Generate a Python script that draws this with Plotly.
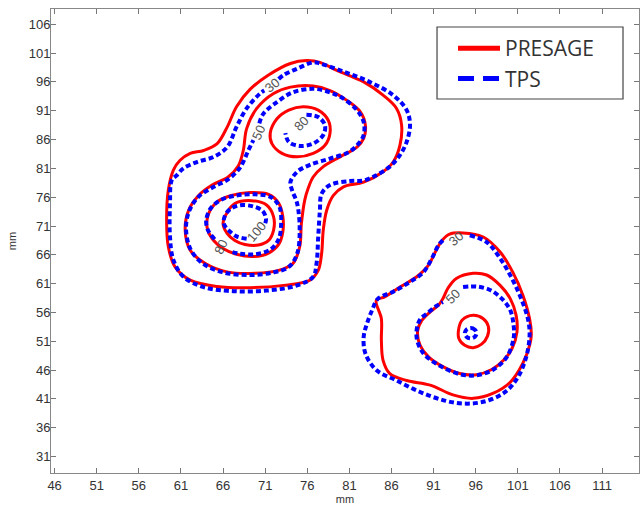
import plotly.graph_objects as go

# ---------------- axes ----------------
X_RANGE = [45.57, 115.39]
Y_RANGE = [28.15, 108.65]
X_TICKS = [46, 51, 56, 61, 66, 71, 76, 81, 86, 91, 96, 101, 106, 111]
Y_TICKS = [31, 36, 41, 46, 51, 56, 61, 66, 71, 76, 81, 86, 91, 96, 101, 106]

# ---------------- PRESAGE (measured) isodose lines, mm ----------------
presage_30_upper_x = [75.9, 77.5, 79.5, 82.7, 85.0, 86.6, 87.2, 87.0, 86.2, 85.0, 82.7, 80.3, 79.1, 78.3, 77.9, 77.7, 77.3, 76.3, 73.2, 69.2, 65.3, 62.1, 60.3, 59.5, 59.3, 59.5, 60.1, 60.9, 62.1, 63.7, 65.3, 66.5, 67.6, 69.2, 71.4, 74.0, 75.9]
presage_30_upper_y = [99.7, 99.4, 98.0, 96.0, 93.7, 91.4, 88.5, 85.0, 82.1, 80.4, 78.6, 77.8, 76.3, 73.7, 70.3, 66.2, 63.3, 61.6, 60.7, 60.3, 60.5, 61.6, 63.9, 67.4, 72.0, 77.2, 80.7, 82.4, 83.6, 84.1, 85.3, 88.2, 91.7, 94.7, 97.2, 99.2, 99.7]
presage_50_upper_x = [74.0, 76.7, 78.7, 80.7, 82.3, 82.9, 82.7, 81.9, 79.9, 77.9, 76.7, 76.1, 75.7, 75.3, 75.1, 74.3, 72.6, 69.8, 66.6, 63.9, 62.1, 61.5, 61.9, 63.1, 64.7, 66.6, 67.8, 68.4, 68.8, 70.0, 72.0, 74.0]
presage_50_upper_y = [95.1, 95.3, 94.5, 92.8, 90.8, 88.5, 86.2, 84.7, 83.0, 81.3, 79.5, 77.5, 75.5, 71.4, 67.4, 64.5, 63.3, 62.8, 63.0, 64.5, 66.8, 70.3, 73.7, 76.3, 78.1, 79.5, 81.4, 84.1, 87.9, 91.4, 94.0, 95.1]
presage_80_top_x = [72.4, 73.8, 75.5, 77.3, 78.5, 78.7, 78.1, 76.7, 74.8, 73.0, 71.8, 71.6, 72.4]
presage_80_top_y = [89.6, 91.1, 91.7, 91.1, 89.3, 87.1, 85.0, 83.6, 83.0, 83.6, 85.3, 87.1, 89.6]
presage_80_low_x = [64.3, 65.3, 67.0, 69.2, 71.4, 72.6, 73.1, 73.1, 72.6, 71.4, 69.6, 67.6, 66.0, 64.7, 64.1, 64.3]
presage_80_low_y = [73.2, 75.2, 76.3, 76.8, 76.5, 75.0, 72.6, 70.0, 67.8, 66.3, 65.7, 66.1, 67.1, 68.8, 70.8, 73.2]
presage_100_x = [66.5, 67.4, 69.4, 71.2, 72.0, 72.0, 71.4, 70.2, 68.6, 67.4, 66.5, 66.0, 66.5]
presage_100_y = [73.4, 74.9, 75.4, 74.6, 72.6, 70.3, 68.5, 67.7, 67.8, 68.5, 69.7, 71.4, 73.4]
presage_30_lower_x = [94.5, 96.9, 98.9, 100.4, 101.6, 102.4, 102.6, 102.4, 101.6, 100.1, 98.1, 95.7, 93.3, 90.6, 87.8, 85.8, 85.0, 84.8, 84.8, 84.2, 85.2, 87.0, 89.0, 90.4, 91.2, 92.0, 92.9, 94.5]
presage_30_lower_y = [69.8, 69.1, 66.5, 63.0, 59.0, 54.9, 52.1, 50.3, 47.2, 43.9, 42.0, 41.1, 41.7, 43.4, 44.2, 45.4, 47.7, 51.2, 54.9, 58.1, 58.7, 60.4, 62.2, 64.2, 66.5, 68.5, 69.6, 69.8]
presage_50_lower_x = [93.7, 95.7, 97.3, 98.9, 100.1, 100.8, 100.9, 100.3, 99.3, 97.9, 96.1, 94.1, 92.1, 90.4, 89.4, 89.1, 89.6, 90.6, 91.6, 92.1, 92.7, 93.7]
presage_50_lower_y = [61.9, 62.8, 62.5, 60.7, 58.4, 55.5, 52.6, 49.7, 47.7, 46.1, 45.2, 45.4, 46.6, 48.3, 50.3, 52.8, 54.6, 56.1, 57.3, 58.4, 60.2, 61.9]
presage_80_lower_x = [95.7, 96.9, 97.5, 97.4, 96.7, 95.7, 94.7, 94.0, 94.0, 94.4, 95.7]
presage_80_lower_y = [55.5, 54.9, 53.6, 51.9, 50.5, 49.9, 50.3, 51.5, 53.3, 54.7, 55.5]

# ---------------- TPS (planned) isodose lines, mm (open where labelled) ----------------
tps_30_upper_x = [72.6, 73.2, 74.8, 76.7, 77.5, 80.3, 83.4, 86.2, 87.8, 88.2, 87.8, 87.0, 85.8, 84.2, 82.7, 81.1, 78.7, 77.7, 77.5, 77.3, 77.1, 76.7, 74.8, 71.2, 67.2, 63.7, 61.3, 60.1, 59.7, 59.7, 59.9, 60.5, 61.3, 62.9, 64.9, 66.5, 67.6, 68.8, 70.4, 70.9]
tps_30_upper_y = [96.5, 97.2, 98.3, 99.4, 99.2, 97.8, 96.0, 93.7, 91.1, 88.5, 85.6, 83.3, 81.3, 79.8, 78.9, 78.8, 78.1, 76.6, 73.7, 69.1, 64.5, 62.2, 60.7, 59.8, 59.7, 60.4, 62.2, 65.1, 69.1, 74.9, 78.9, 79.8, 81.0, 82.1, 83.0, 84.7, 88.2, 91.4, 94.0, 94.5]
tps_50_upper_x = [70.3, 70.8, 72.4, 74.3, 76.7, 78.7, 80.3, 81.9, 82.7, 82.7, 82.1, 80.9, 78.7, 76.3, 74.8, 74.0, 74.2, 74.8, 75.1, 74.8, 73.8, 71.8, 69.0, 65.9, 63.5, 62.1, 61.6, 62.0, 63.1, 64.9, 66.6, 68.0, 69.0, 69.6]
tps_50_upper_y = [88.8, 90.5, 92.5, 94.2, 94.8, 94.2, 93.1, 91.1, 89.0, 86.8, 85.3, 83.8, 82.7, 81.6, 80.4, 78.6, 77.2, 74.9, 70.3, 66.2, 63.9, 62.9, 62.5, 63.0, 64.6, 67.1, 70.7, 73.7, 76.1, 77.8, 79.1, 81.1, 84.1, 85.9]
tps_80_top_x = [75.9, 77.3, 78.1, 77.9, 76.7, 75.1, 73.8, 73.4]
tps_80_top_y = [90.3, 89.9, 88.5, 86.8, 85.3, 84.9, 85.6, 87.1]
tps_80_low_x = [65.0, 64.2, 64.0, 64.5, 65.7, 67.6, 69.8, 71.7, 72.7, 72.9, 72.6, 71.6, 69.8, 68.0, 66.8]
tps_80_low_y = [68.7, 70.3, 72.0, 74.0, 75.5, 76.3, 76.5, 76.0, 74.3, 71.4, 68.7, 66.9, 66.1, 66.2, 66.6]
tps_100_x = [68.8, 67.6, 66.7, 66.1, 66.2, 66.8, 68.0, 69.6, 70.7, 71.1, 71.0]
tps_100_y = [68.8, 69.2, 70.2, 71.4, 72.7, 73.9, 74.6, 74.4, 73.6, 72.3, 71.4]
tps_30_lower_x = [95.3, 97.3, 98.9, 100.3, 101.4, 102.2, 102.4, 102.0, 100.9, 99.3, 96.9, 94.5, 92.1, 89.4, 86.6, 84.2, 82.9, 82.7, 83.1, 83.7, 84.4, 86.2, 88.2, 89.8, 90.8, 91.6, 92.3]
tps_30_lower_y = [69.4, 68.2, 65.4, 61.9, 58.4, 54.9, 52.1, 48.3, 44.5, 42.0, 40.5, 40.2, 40.8, 42.2, 44.2, 46.0, 48.9, 51.8, 54.1, 56.4, 58.4, 59.6, 61.3, 63.0, 65.4, 67.7, 68.8]
tps_50_lower_x = [94.5, 96.1, 97.7, 99.1, 100.1, 100.5, 100.5, 99.7, 98.1, 96.1, 94.1, 91.8, 89.8, 89.0, 89.1, 89.5, 90.2, 91.2, 92.1]
tps_50_lower_y = [60.4, 60.5, 59.9, 58.4, 56.4, 53.8, 51.5, 48.3, 46.1, 45.1, 45.3, 46.7, 48.9, 51.5, 53.8, 55.0, 55.8, 57.0, 57.8]
tps_80_lower_x = [96.1, 95.9, 95.4, 94.9, 94.7, 94.9, 95.4, 95.9, 96.1]
tps_80_lower_y = [52.4, 53.0, 53.3, 53.0, 52.4, 51.8, 51.5, 51.8, 52.4]

# ---------------- contour labels (TPS) ----------------
label_text = ["30", "50", "80", "100", "80", "30", "50"]
label_x = [71.8, 70.2, 75.3, 70.0, 65.7, 93.7, 93.3]
label_y = [95.4, 87.3, 88.8, 70.0, 67.3, 68.8, 58.7]


def join(paths):
    xs, ys = [], []
    for px, py in paths:
        xs += list(px) + [None]
        ys += list(py) + [None]
    return xs, ys


presage_x, presage_y = join([
    (presage_30_upper_x, presage_30_upper_y), (presage_50_upper_x, presage_50_upper_y),
    (presage_80_top_x, presage_80_top_y), (presage_80_low_x, presage_80_low_y),
    (presage_100_x, presage_100_y), (presage_30_lower_x, presage_30_lower_y),
    (presage_50_lower_x, presage_50_lower_y), (presage_80_lower_x, presage_80_lower_y)])
tps_x, tps_y = join([
    (tps_30_upper_x, tps_30_upper_y), (tps_50_upper_x, tps_50_upper_y),
    (tps_80_top_x, tps_80_top_y), (tps_80_low_x, tps_80_low_y),
    (tps_100_x, tps_100_y), (tps_30_lower_x, tps_30_lower_y),
    (tps_50_lower_x, tps_50_lower_y), (tps_80_lower_x, tps_80_lower_y)])

RED = "#ff0000"
BLUE = "#0000ff"

fig = go.Figure()
fig.add_trace(go.Scatter(x=presage_x, y=presage_y, mode="lines", showlegend=False,
                         line=dict(color=RED, width=3, shape="spline", smoothing=1.0),
                         hoverinfo="skip"))
fig.add_trace(go.Scatter(x=tps_x, y=tps_y, mode="lines", showlegend=False,
                         line=dict(color=BLUE, width=4, dash="5px,3px", shape="spline", smoothing=1.0),
                         hoverinfo="skip"))
# legend entries
fig.add_trace(go.Scatter(x=[None], y=[None], mode="lines", name="PRESAGE",
                         line=dict(color=RED, width=5)))
fig.add_trace(go.Scatter(x=[None], y=[None], mode="lines", name="TPS",
                         line=dict(color=BLUE, width=5, dash="16px,9px")))

label_angle = [-40, -65, -45, -50, -65, -40, -45]
for t, lx, ly, ang in zip(label_text, label_x, label_y, label_angle):
    fig.add_annotation(x=lx, y=ly, text=t, showarrow=False, textangle=ang,
                       font=dict(family="Liberation Sans", size=13, color="#555555"))

# legend frame
fig.add_shape(type="rect", xref="paper", yref="paper",
              x0=0.6565, x1=0.9728, y0=0.806, y1=0.9612,
              line=dict(color="#444444", width=1.2), fillcolor="rgba(0,0,0,0)")

axis_common = dict(ticks="inside", ticklen=5, tickwidth=1, tickcolor="#777777",
                   showline=True, linecolor="#888888", linewidth=1, mirror="allticks",
                   showgrid=False, zeroline=False,
                   tickfont=dict(family="Liberation Sans", size=13, color="#333333"))

fig.update_layout(
    width=640, height=512,
    margin=dict(l=51, r=1, t=9, b=39),
    paper_bgcolor="white", plot_bgcolor="white",
    font=dict(family="Liberation Sans"),
    xaxis=dict(range=X_RANGE, tickvals=X_TICKS, **axis_common,
               title=dict(text="mm", font=dict(size=11, color="#333333"), standoff=3)),
    yaxis=dict(range=Y_RANGE, tickvals=Y_TICKS, **axis_common, ticklabelstandoff=-3,
               title=dict(text="mm", font=dict(size=11, color="#333333"), standoff=9)),
    legend=dict(x=0.6837, y=0.959, xanchor="left", yanchor="top",
                borderwidth=0, bgcolor="rgba(0,0,0,0)",
                font=dict(family="Open Sans", size=21, color="#333333"),
                itemwidth=42, tracegroupgap=0),
)

fig.write_html("out.html", config={"displayModeBar": False},
               post_script="document.body.style.margin='0';")
